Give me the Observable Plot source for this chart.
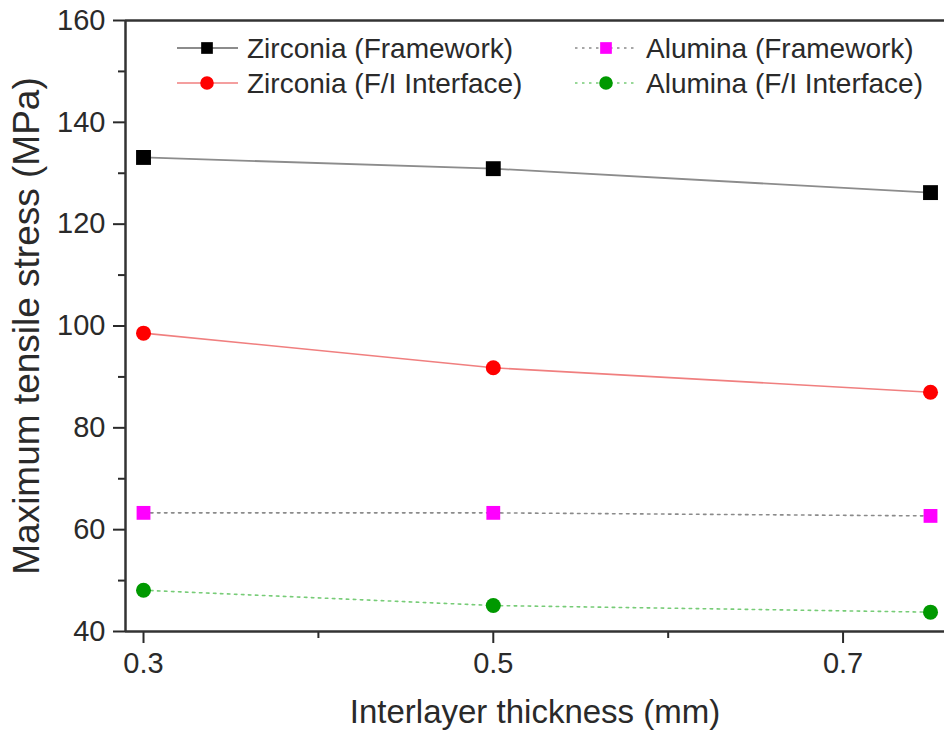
<!DOCTYPE html>
<html>
<head>
<meta charset="utf-8">
<script src="https://cdn.jsdelivr.net/npm/d3@7"></script>
<script src="https://cdn.jsdelivr.net/npm/@observablehq/plot@0.6"></script>
<style>
  html, body { margin: 0; padding: 0; background: #fff; }
  #chart svg { display: block; }
</style>
</head>
<body>
<div id="chart"></div>
<script>
const thickness = [0.3, 0.5, 0.75];
const seriesNames = ["Zirconia (Framework)", "Zirconia (F/I Interface)", "Alumina (Framework)", "Alumina (F/I Interface)"];
const zirconiaFramework = [133.1, 130.9, 126.2];
const zirconiaInterface = [98.6, 91.8, 87.0];
const aluminaFramework = [63.3, 63.3, 62.7];
const aluminaInterface = [48.1, 45.1, 43.8];
const xTicks = [0.3, 0.5, 0.7];
const xMinorTicks = [0.4, 0.6];
const yTicks = [40, 60, 80, 100, 120, 140, 160];
const yMinorTicks = [50, 70, 90, 110, 130, 150];

const valuesList = [zirconiaFramework, zirconiaInterface, aluminaFramework, aluminaInterface];
const styles = [
  {line: "#8c8c8c", width: 1.8, dash: null, fill: "#000000", symbol: "square", r: 8.4, lr: 6.6},
  {line: "#f07f7f", width: 1.6, dash: null, fill: "#ff0000", symbol: "circle", r: 7.5, lr: 6.8},
  {line: "#8a8a8a", width: 1.6, dash: "2.5,4.5", fill: "#ff00ff", symbol: "square", r: 7.8, lr: 6.6},
  {line: "#77cc77", width: 1.6, dash: "2.5,4.5", fill: "#009900", symbol: "circle", r: 7.5, lr: 6.8}
];

const rows = [];
seriesNames.forEach((name, i) => {
  thickness.forEach((t, j) => rows.push({series: name, idx: i, x: t, y: valuesList[i][j]}));
});

const xDomain = [0.2897, 0.758];
const yDomain = [40, 160];
const font = "'Liberation Sans', Arial, sans-serif";
const textColor = "#2a2a2a";

function legend(index, scales, values, dimensions) {
  const g = d3.create("svg:g").attr("font-family", font).attr("text-anchor", "start");
  const entries = [
    {i: 0, lx0: 177, lx1: 238, mx: 207, tx: 247, y: 48},
    {i: 1, lx0: 177, lx1: 238, mx: 207, tx: 247, y: 83},
    {i: 2, lx0: 575, lx1: 638, mx: 606, tx: 646, y: 48},
    {i: 3, lx0: 575, lx1: 638, mx: 606, tx: 646, y: 83}
  ];
  for (const e of entries) {
    const s = styles[e.i];
    const ln = g.append("line").attr("x1", e.lx0).attr("x2", e.lx1).attr("y1", e.y).attr("y2", e.y)
      .attr("stroke", s.line).attr("stroke-width", s.width);
    if (s.dash) ln.attr("stroke-dasharray", s.dash);
    const sym = d3.symbol(s.symbol === "square" ? d3.symbolSquare : d3.symbolCircle, Math.PI * s.lr * s.lr);
    g.append("path").attr("d", sym()).attr("transform", `translate(${e.mx},${e.y})`).attr("fill", s.fill);
    g.append("text").attr("x", e.tx).attr("y", e.y).attr("dy", "0.36em")
      .attr("font-size", 28).attr("fill", textColor).text(seriesNames[e.i]);
  }
  return g.node();
}

const lineMarks = seriesNames.map((name, i) => Plot.line(rows.filter(d => d.idx === i), {
  x: "x", y: "y", stroke: styles[i].line, strokeWidth: styles[i].width,
  strokeDasharray: styles[i].dash || undefined
}));
const dotMarks = seriesNames.map((name, i) => Plot.dot(rows.filter(d => d.idx === i), {
  x: "x", y: "y", symbol: styles[i].symbol, r: styles[i].r, fill: styles[i].fill, stroke: "none"
}));

const chart = Plot.plot({
  width: 944,
  height: 734,
  marginLeft: 125,
  marginRight: 0,
  marginTop: 20,
  marginBottom: 103,
  style: {fontFamily: font, color: textColor, background: "#fff"},
  x: {domain: xDomain},
  y: {domain: yDomain},
  marks: [
    ...lineMarks,
    ...dotMarks,
    Plot.axisY({ticks: yTicks, tickSize: 12, tickPadding: 8, fontSize: 29, strokeWidth: 2, label: null, tickFormat: d => String(d)}),
    Plot.axisY({ticks: yMinorTicks, tickSize: 7, strokeWidth: 2, text: null, label: null}),
    Plot.axisX({ticks: xTicks, tickSize: 12, tickPadding: 9, fontSize: 29, strokeWidth: 2, label: null, tickFormat: d => String(d)}),
    Plot.axisX({ticks: xMinorTicks, tickSize: 7, strokeWidth: 2, text: null, label: null}),
    Plot.ruleX([xDomain[0]], {stroke: "#333", strokeWidth: 2.5}),
    Plot.ruleY([yDomain[0]], {stroke: "#333", strokeWidth: 2.5}),
    Plot.ruleY([yDomain[1]], {stroke: "#333", strokeWidth: 2.5}),
    Plot.text(["Maximum tensile stress (MPa)"], {frameAnchor: "left", textAnchor: "middle", lineAnchor: "middle", dx: -98, rotate: -90, fontSize: 37, fill: textColor}),
    Plot.text(["Interlayer thickness (mm)"], {frameAnchor: "bottom", textAnchor: "middle", lineAnchor: "middle", dy: 81, fontSize: 33, fill: textColor}),
    legend
  ]
});

document.getElementById("chart").appendChild(chart);
</script>
</body>
</html>
